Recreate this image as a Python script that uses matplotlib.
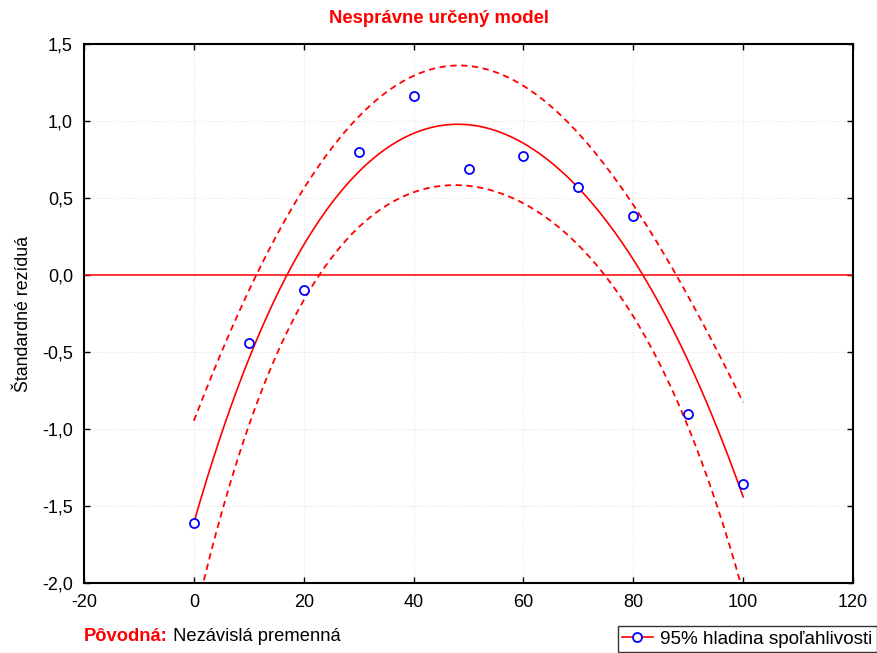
import numpy as np
import matplotlib
matplotlib.use("Agg")
import matplotlib.pyplot as plt
from matplotlib.lines import Line2D
from matplotlib.ticker import FuncFormatter, MultipleLocator

plt.rcParams['font.family'] = ['Liberation Sans', 'DejaVu Sans']
plt.rcParams['axes.unicode_minus'] = False

# independent variable and standardized residuals
x_vals = [0, 10, 20, 30, 40, 50, 60, 70, 80, 90, 100]
resid = [-1.61, -0.44, -0.10, 0.80, 1.16, 0.69, 0.77, 0.57, 0.38, -0.90, -1.36]

# fitted curve and 95% confidence limits at the same x values
fit_vals = [-1.60, -0.57, 0.22, 0.66, 0.92, 0.98, 0.86, 0.56, 0.08, -0.53, -1.45]
upper_vals = [-0.95, -0.10, 0.58, 1.00, 1.29, 1.37, 1.24, 0.92, 0.43, -0.12, -0.83]
lower_vals = [-2.25, -1.00, -0.14, 0.30, 0.53, 0.59, 0.48, 0.17, -0.28, -0.96, -2.07]

title = "Nesprávne určený model"
ylabel = "Štandardné rezíduá"
legend_label = "95% hladina spoľahlivosti"

x = np.array(x_vals, dtype=float)
xx = np.linspace(x.min(), x.max(), 300)


def smooth(vals):
    return np.polyval(np.polyfit(x, vals, 4), xx)


fig = plt.figure(figsize=(8.78, 6.53), dpi=100)
ax = fig.add_axes([0.0957, 0.1072, 0.8758, 0.8254])

ax.axhline(0, color='red', lw=1.1, zorder=2)
ax.plot(xx, smooth(fit_vals), color='red', lw=1.2, zorder=3)
ax.plot(xx, smooth(upper_vals), color='red', lw=1.3, dashes=(3.5, 2.5), zorder=3)
ax.plot(xx, smooth(lower_vals), color='red', lw=1.3, dashes=(3.5, 2.5), zorder=3)
ax.plot(x, resid, 'o', ms=6.5, mfc='white', mec='blue', mew=1.3, zorder=4)

ax.set_xlim(-20, 120)
ax.set_ylim(-2.0, 1.5)
ax.xaxis.set_major_locator(MultipleLocator(20))
ax.yaxis.set_major_locator(MultipleLocator(0.5))
ax.yaxis.set_major_formatter(FuncFormatter(lambda v, p: f"{v:.1f}".replace('.', ',')))
ax.tick_params(direction='in', length=4, width=1, labelsize=13, pad=8,
               top=True, right=True, colors='black')
ax.grid(True, color='#e4e4e4', lw=0.8, ls=':')
for sp in ax.spines.values():
    sp.set_linewidth(1.5)

ax.set_ylabel(ylabel, fontsize=12.8, labelpad=7)
fig.text(0.5, 0.972, title, color='red', fontsize=13.3, fontweight='bold',
         ha='center', va='center')

t1 = fig.text(0.0957, 0.018, "Pôvodná:", color='red', fontsize=13.2,
              fontweight='bold', ha='left', va='baseline')
ax.annotate(" Nezávislá premenná", xy=(1, 0), xycoords=t1, fontsize=13.2,
            color='black', ha='left', va='bottom', annotation_clip=False)

handle = Line2D([], [], color='red', lw=1.2, marker='o', ms=6.5,
                mfc='white', mec='blue', mew=1.3)
leg = fig.legend([handle], [legend_label], loc='lower right',
                 bbox_to_anchor=(0.999, 0.001), fontsize=13.6, frameon=True,
                 fancybox=False, handlelength=1.6, handletextpad=0.4,
                 borderpad=0.25, borderaxespad=0)
leg.get_frame().set_edgecolor('black')
leg.get_frame().set_linewidth(1.0)

fig.savefig("out.png", dpi=100)
